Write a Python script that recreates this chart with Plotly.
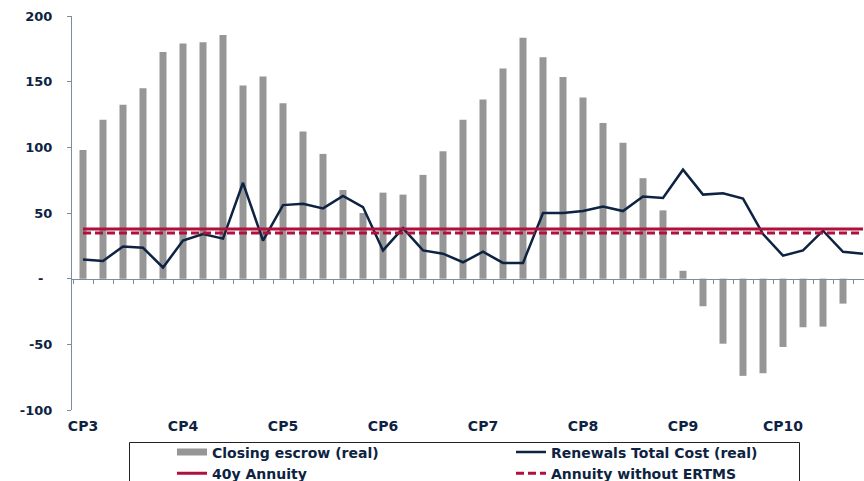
import plotly.graph_objects as go

# Control-period labels and yearly series
period_labels = ["CP3", "CP4", "CP5", "CP6", "CP7", "CP8", "CP9", "CP10"]
years = list(range(40))

closing_escrow = [98, 121, 132.5, 145, 172.5, 179, 180, 185.5, 147, 154,
                  133.5, 112, 95, 67.5, 50, 65.5, 64, 79, 97, 121,
                  136.5, 160, 183.5, 168.5, 153.5, 138, 118.5, 103.5, 76.5, 52,
                  6, -21, -49.5, -74, -72, -52, -37, -36.5, -19, None]

renewals_cost = [14.5, 13.5, 24.5, 23.5, 8.5, 29, 34, 30.5, 73, 29,
                 56, 57, 53.5, 63, 54.5, 21.5, 38.5, 21.5, 19, 12.5,
                 20.5, 12, 12, 50, 50, 51.5, 55, 51.5, 62.5, 61.5,
                 83, 64, 65, 61, 34, 17.5, 21.5, 36.5, 20.5, 19]

annuity_40y = 37.8
annuity_no_ertms = 34.8

NAVY = "#0d2341"
RED = "#b0103c"
GREY = "#969696"
AXIS = "#7d8ca3"
FONT = dict(family="DejaVu Sans", weight="bold", color=NAVY)

fig = go.Figure()

# Legend entry for the escrow bars (wide grey swatch)
fig.add_trace(go.Scatter(x=[None], y=[None], mode="lines",
                         line=dict(color=GREY, width=7),
                         name="Closing escrow (real)"))

fig.add_trace(go.Bar(x=years, y=closing_escrow, width=0.35,
                     marker=dict(color=GREY, line=dict(width=0)),
                     showlegend=False, name="Closing escrow (real)"))

fig.add_trace(go.Scatter(x=years, y=renewals_cost, mode="lines",
                         line=dict(color=NAVY, width=2.5),
                         name="Renewals Total Cost (real)"))

fig.add_trace(go.Scatter(x=years, y=[annuity_40y] * len(years), mode="lines",
                         line=dict(color=RED, width=3),
                         name="40y Annuity"))

fig.add_trace(go.Scatter(x=years, y=[annuity_no_ertms] * len(years), mode="lines",
                         line=dict(color=RED, width=3, dash="8px,4px"),
                         name="Annuity without ERTMS"))

# Invisible trace so the zero-line axis is rendered
fig.add_trace(go.Scatter(x=[0], y=[None], xaxis="x2", yaxis="y",
                         showlegend=False, hoverinfo="skip"))

W, H = 864, 481
L, R, T, B = 72, 0, 16, 71
plot_w = W - L - R
plot_h = H - T - B
x_lo = -0.55
x_hi = x_lo + plot_w / 20.0


def px_x(px):
    return (px - L) / plot_w


def px_y(py):
    return (H - B - py) / plot_h


fig.update_layout(
    width=W, height=H,
    margin=dict(l=L, r=R, t=T, b=B, autoexpand=False),
    paper_bgcolor="white", plot_bgcolor="white",
    bargap=0.65,
    xaxis=dict(range=[x_lo, x_hi], showgrid=False, zeroline=False,
               showline=False, ticks="",
               tickmode="array", tickvals=[0, 5, 10, 15, 20, 25, 30, 35],
               ticktext=period_labels, tickfont=dict(size=14, **FONT),
               ticklabelstandoff=6),
    xaxis2=dict(overlaying="x", matches="x", anchor="free", position=1 / 3,
                showgrid=False, zeroline=False, showline=True,
                linecolor=AXIS, linewidth=1,
                tickmode="linear", tick0=-0.5, dtick=1,
                ticks="outside", ticklen=4, tickcolor=AXIS,
                showticklabels=False),
    yaxis=dict(range=[-100, 200], showgrid=False, zeroline=False,
               showline=True, linecolor=AXIS, linewidth=1,
               ticks="outside", ticklen=4, tickcolor=AXIS,
               tickmode="array",
               tickvals=[-100, -50, 0, 50, 100, 150, 200],
               ticktext=["-100", "-50", "-\u00a0\u00a0", "50", "100", "150", "200"],
               tickfont=dict(size=13, **FONT),
               ticklabelstandoff=12),
    legend=dict(orientation="h", x=px_x(172), xanchor="left",
                y=px_y(436.5), yanchor="top",
                entrywidth=294, entrywidthmode="pixels",
                bgcolor="rgba(0,0,0,0)", borderwidth=0,
                font=dict(size=14, **FONT), itemclick=False),
    shapes=[dict(type="rect", xref="paper", yref="paper",
                 x0=px_x(129.5), x1=px_x(799.5),
                 y0=px_y(442.5), y1=px_y(500),
                 line=dict(color="#222222", width=1),
                 fillcolor="rgba(0,0,0,0)")],
    showlegend=True,
)

fig.write_html("out.html")
